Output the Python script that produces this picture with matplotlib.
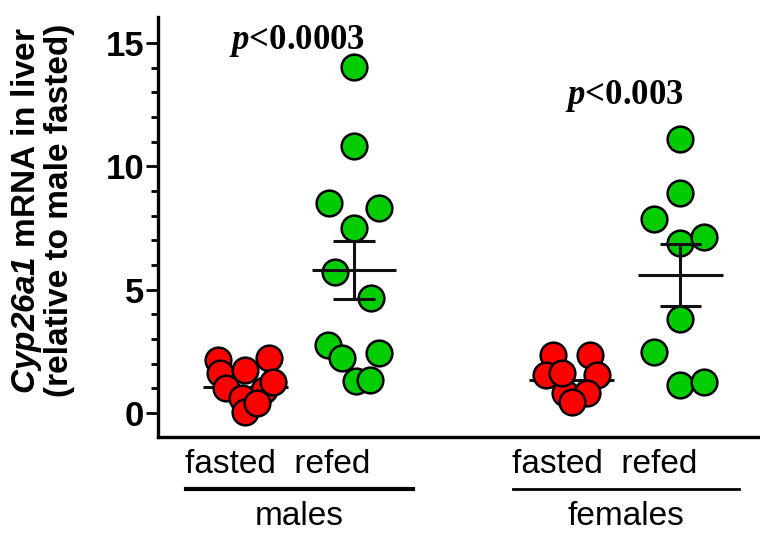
import numpy as np
import matplotlib
matplotlib.use("Agg")
import matplotlib.pyplot as plt

plt.rcParams['mathtext.fontset'] = 'custom'
plt.rcParams['mathtext.it'] = 'Liberation Serif:italic:bold'
plt.rcParams['mathtext.bfit'] = 'Liberation Sans:italic:bold'

# data
groups = ['males', 'females']
conditions = ['fasted', 'refed', 'fasted', 'refed']
male_fasted = [2.15, 1.62, 1.74, 2.23, 1.01, 0.93, 0.61, 0.05, 1.26, 0.40]
male_refed = [14.03, 10.82, 8.51, 8.31, 7.50, 5.72, 4.66, 2.76, 2.23, 2.43, 1.30, 1.35]
female_fasted = [2.36, 2.35, 1.54, 1.54, 0.81, 0.81, 1.60, 0.45]
female_refed = [11.10, 8.92, 7.86, 6.89, 7.13, 3.81, 2.47, 1.13, 1.26]
means = [1.05, 5.80, 1.34, 5.59]
sems = [0.0, 1.16, 0.0, 1.25]
p_labels = ['<0.0003', '<0.003']

# horizontal scatter of the dots (column widths)
jitter = [
    [-0.25, -0.23, 0.0, 0.22, -0.18, 0.17, -0.03, 0.0, 0.26, 0.11],
    [0.0, 0.0, -0.23, 0.23, 0.0, -0.17, 0.16, -0.24, -0.11, 0.23, 0.02, 0.15],
    [-0.17, 0.17, -0.24, 0.23, -0.06, 0.14, -0.09, 0.0],
    [0.0, 0.0, -0.24, 0.0, 0.22, 0.0, -0.24, 0.0, 0.22],
]

series = [male_fasted, male_refed, female_fasted, female_refed]
xpos = [0, 1, 3, 4]
colors = ['#ff0000', '#00cc00', '#ff0000', '#00cc00']

fig = plt.figure(figsize=(7.6, 5.38), dpi=100)
ax = fig.add_axes([0.208, 0.188, 0.789, 0.780])

for i, vals in enumerate(series):
    xs = xpos[i] + np.array(jitter[i])
    ax.plot(xs, vals, 'o', ms=18.5, mfc=colors[i], mec='black', mew=1.8, zorder=3)
    # mean line under the fasted dots, over the refed dots
    lz = 2 if i % 2 == 0 else 4
    ax.hlines(means[i], xpos[i] - 0.39, xpos[i] + 0.39, color='#111111', lw=2.2, zorder=lz)
    if sems[i] > 0:
        lo, hi = means[i] - sems[i], means[i] + sems[i]
        ax.vlines(xpos[i], lo, hi, color='#111111', lw=2.2, zorder=lz)
        ax.hlines([lo, hi], xpos[i] - 0.19, xpos[i] + 0.19, color='#111111', lw=2.2, zorder=lz)

ax.set_xlim(-0.80, 4.71)
ax.set_ylim(-0.97, 16.05)
ax.set_yticks([0, 5, 10, 15])
ax.set_yticks(np.arange(0, 16), minor=True)
ax.set_yticklabels(['0', '5', '10', '15'], fontfamily='Liberation Sans', fontweight='bold', fontsize=25)
ax.tick_params(axis='y', which='major', length=9, width=2, pad=1, direction='out')
ax.tick_params(axis='y', which='minor', length=5, width=2, direction='out')

ax.set_xticks(xpos)
ax.set_xticklabels([])
ax.tick_params(axis='x', length=0)

for s in ['top', 'right']:
    ax.spines[s].set_visible(False)
for s in ['left', 'bottom']:
    ax.spines[s].set_linewidth(2.4)

ax.set_ylabel(r'$\mathbfit{Cyp26a1}$ mRNA in liver' + '\n(relative to male fasted)',
              fontfamily='Liberation Sans', fontweight='bold', fontsize=24, linespacing=1.0)
ax.yaxis.set_label_coords(-0.138, 0.54)

# condition labels, underline and group labels
trans = ax.get_xaxis_transform()
for k, g in enumerate(groups):
    c = (xpos[2 * k] + xpos[2 * k + 1]) / 2
    ax.text(c - 0.2, -0.067, '  '.join(conditions[2 * k:2 * k + 2]), transform=trans,
            ha='center', va='center', fontfamily='Liberation Sans', fontsize=24)
    ax.plot([c - 1.04, c + 1.04], [-0.124, -0.124], color='black',
            lw=3 if k == 0 else 2, transform=trans, clip_on=False)
    ax.text(c, -0.19, g, transform=trans, ha='center', va='center',
            fontfamily='Liberation Sans', fontsize=24)

# p values above refed columns
p_y = [15.1, 12.85]
for k, lab in enumerate(p_labels):
    c = (xpos[2 * k] + xpos[2 * k + 1]) / 2
    ax.text(c - 0.02, p_y[k], r'$\it{p}$' + lab, ha='center', va='center',
            fontfamily='Liberation Serif', fontweight='bold', fontsize=25)

fig.savefig('out.png', dpi=100)
